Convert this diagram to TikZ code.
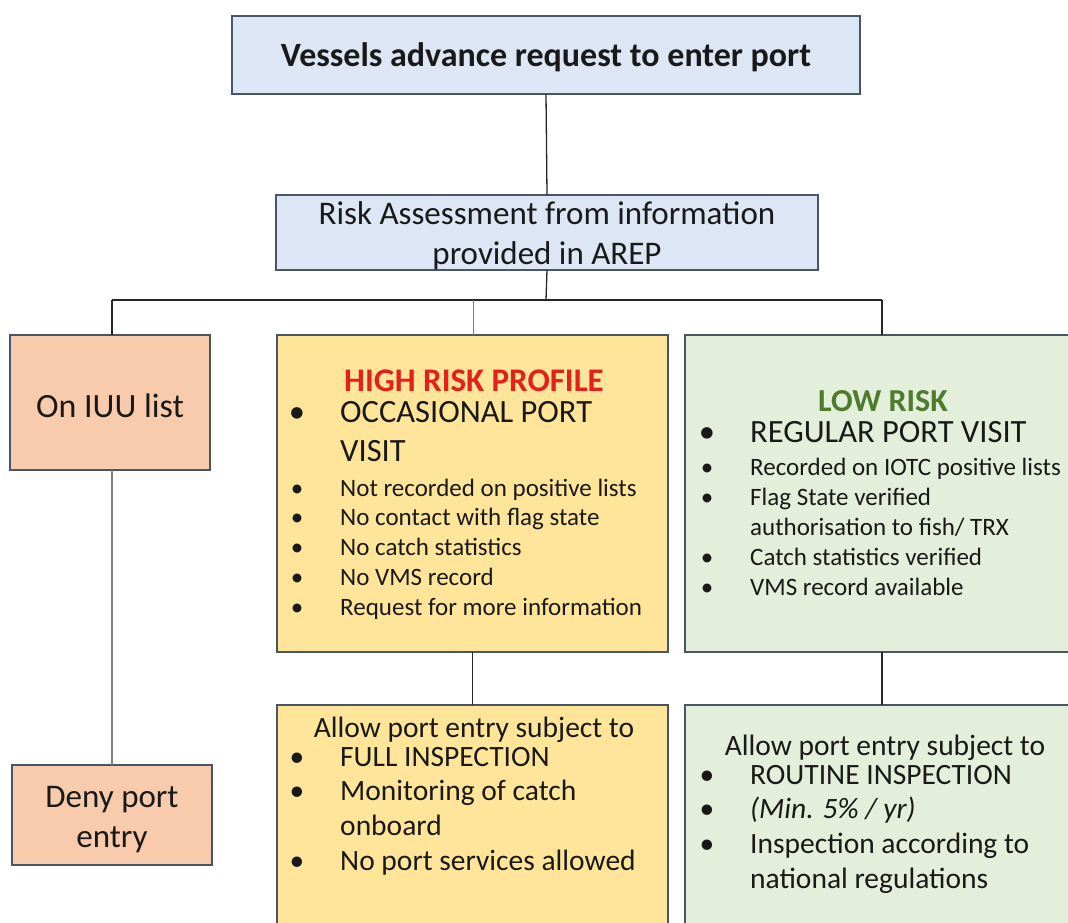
\documentclass[tikz,border=0pt]{standalone}
\usepackage{fontspec}
\setmainfont{Carlito}
\definecolor{boxline}{HTML}{4A5568}
\definecolor{bluefill}{HTML}{DCE6F4}
\definecolor{orangefill}{HTML}{F7CBAC}
\definecolor{yellowfill}{HTML}{FFE59A}
\definecolor{greenfill}{HTML}{E3EFDA}
\definecolor{redtxt}{HTML}{E3201B}
\definecolor{greentxt}{HTML}{4E7B2C}
\definecolor{greyline}{HTML}{7F7F7F}
\tikzset{
  box/.style={draw=boxline, line width=1.2pt, inner sep=0pt, outer sep=0pt, anchor=north west},
  conn/.style={draw=black!85, line width=1.3pt},
  connlight/.style={draw=greyline, line width=1pt},
  connthick/.style={draw=greyline, line width=1.8pt},
  txt/.style={inner sep=0pt, text=black!90},
  lt/.style={txt, anchor=mid west},
  bul/.style={txt, anchor=mid},
  big/.style={font=\fontsize{32.5}{38}\selectfont},
  mid/.style={font=\fontsize{29.5}{34}\selectfont},
  small/.style={font=\fontsize{25}{29}\selectfont},
}
\begin{document}
\begin{tikzpicture}[x=1pt,y=-1pt]
\useasboundingbox (0,0) rectangle (1068,922);
\clip (0,0) rectangle (1068,922);
% boxes
\node[box, fill=bluefill, minimum width=628pt, minimum height=78pt] (top) at (232,16) {};
\node[box, fill=bluefill, minimum width=542pt, minimum height=75pt] (risk) at (276,195) {};
\node[box, fill=orangefill, minimum width=200pt, minimum height=135pt] (iuu) at (10,335) {};
\node[box, fill=yellowfill, minimum width=391pt, minimum height=317pt] (high) at (277,335) {};
\node[box, fill=greenfill, minimum width=400pt, minimum height=317pt] (low) at (685,335) {};
\node[box, fill=orangefill, minimum width=200pt, minimum height=100pt] (deny) at (12,765) {};
\node[box, fill=yellowfill, minimum width=391pt, minimum height=240pt] (highB) at (277,705) {};
\node[box, fill=greenfill, minimum width=400pt, minimum height=240pt] (lowB) at (685,705) {};
% connectors
\coordinate (hub) at (546,300);
\coordinate (hL) at (112,300);
\coordinate (hM) at (473,300);
\coordinate (hR) at (882,300);
\draw[conn] (top.south) -- (risk.north);
\draw[conn] (risk.south) -- (hub);
\draw[conn] (hL) -- (hR);
\draw[conn] (hL) -- (hL |- iuu.north);
\draw[connlight] (hM) -- (hM |- high.north);
\draw[conn] (hR) -- (hR |- low.north);
\draw[connthick] (iuu.south -| hL) -- (hL |- deny.north);
\draw[conn] (high.south) -- (highB.north);
\draw[conn] (hR |- low.south) -- (hR |- lowB.north);
% texts
\node[txt, font=\fontsize{34}{40}\selectfont\bfseries] (ttop) at (546,57) {Vessels advance request to enter port};
\node[txt, font=\fontsize{33}{40}\selectfont, align=center] (trisk) at (547,236) {Risk Assessment from information\\provided in AREP};
\node[txt, font=\fontsize{34}{40}\selectfont] (tiuu) at (110,406) {On IUU list};
\node[txt, font=\fontsize{33}{40}\selectfont, align=center] (tdeny) at (112,820) {Deny port\\entry};
% high risk
\node[txt, font=\fontsize{33}{38}\selectfont\bfseries, text=redtxt] (thigh) at (474,381) {HIGH RISK PROFILE};
\node[bul, big] (hb1) at (297,420) {•};
\node[lt, big] (ht1) at (340,420) {OCCASIONAL PORT};
\node[lt, big] (ht1b) at (340,459) {VISIT};
\node[bul, small] (hb2) at (297,494) {•};
\node[lt, small] (ht2) at (340,494) {Not recorded on positive lists};
\node[bul, small] (hb3) at (297,523) {•};
\node[lt, small] (ht3) at (340,523) {No contact with flag state};
\node[bul, small] (hb4) at (297,553) {•};
\node[lt, small] (ht4) at (340,553) {No catch statistics};
\node[bul, small] (hb5) at (297,583) {•};
\node[lt, small] (ht5) at (340,583) {No VMS record};
\node[bul, small] (hb6) at (297,613) {•};
\node[lt, small] (ht6) at (340,613) {Request for more information};
% low risk
\node[txt, font=\fontsize{32}{38}\selectfont\bfseries, text=greentxt] (tlow) at (883,401) {LOW RISK};
\node[bul, big] (lb1) at (707,440) {•};
\node[lt, big] (lt1) at (750,440) {REGULAR PORT VISIT};
\node[bul, small] (lb2) at (707,473) {•};
\node[lt, small] (lt2) at (750,473) {Recorded on IOTC positive lists};
\node[bul, small] (lb3) at (707,503) {•};
\node[lt, small] (lt3) at (750,503) {Flag State verified};
\node[lt, small] (lt3b) at (750,533) {authorisation to fish/ TRX};
\node[bul, small] (lb4) at (707,563) {•};
\node[lt, small] (lt4) at (750,563) {Catch statistics verified};
\node[bul, small] (lb5) at (707,593) {•};
\node[lt, small] (lt5) at (750,593) {VMS record available};
% high bottom
\node[txt, mid] (thb) at (474,730) {Allow port entry subject to};
\node[bul, mid] (hbb1) at (297,764) {•};
\node[lt, mid] (hbt1) at (340,764) {FULL INSPECTION};
\node[bul, mid] (hbb2) at (297,798) {•};
\node[lt, mid] (hbt2) at (340,798) {Monitoring of catch};
\node[lt, mid] (hbt2b) at (340,833) {onboard};
\node[bul, mid] (hbb3) at (297,868) {•};
\node[lt, mid] (hbt3) at (340,868) {No port services allowed};
% low bottom
\node[txt, mid] (tlb) at (885,748) {Allow port entry subject to};
\node[bul, mid] (lbb1) at (707,782) {•};
\node[lt, mid] (lbt1) at (750,782) {ROUTINE INSPECTION};
\node[bul, mid] (lbb2) at (707,816) {•};
\node[lt, mid] (lbt2) at (750,816) {\itshape (Min. 5\% / yr)};
\node[bul, mid] (lbb3) at (707,851) {•};
\node[lt, mid] (lbt3) at (750,851) {Inspection according to};
\node[lt, mid] (lbt3b) at (750,886) {national regulations};
\end{tikzpicture}
\end{document}
